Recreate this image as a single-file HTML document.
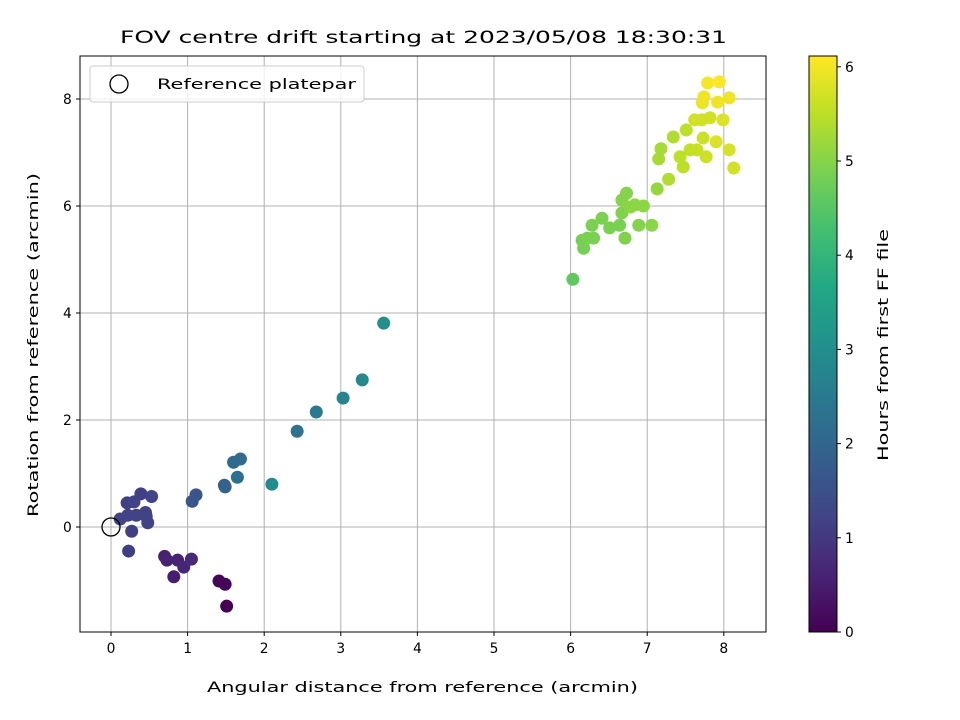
<!DOCTYPE html>
<html><head><meta charset="utf-8"><style>
html,body{margin:0;padding:0;background:#fff;}
svg{display:block;font-family:"DejaVu Sans","Liberation Sans",sans-serif;}
text{font-size:14px;}
.t{font-size:17px;}
</style></head><body>
<svg id="chart" width="960" height="720" viewBox="0 0 960 720" xmlns="http://www.w3.org/2000/svg">
<defs>
<linearGradient id="vir" x1="0" y1="1" x2="0" y2="0">
<stop offset="0" stop-color="#440154"/><stop offset="0.1" stop-color="#482475"/>
<stop offset="0.2" stop-color="#414487"/><stop offset="0.3" stop-color="#355f8d"/>
<stop offset="0.4" stop-color="#2a788e"/><stop offset="0.5" stop-color="#21918c"/>
<stop offset="0.6" stop-color="#22a884"/><stop offset="0.7" stop-color="#44bf70"/>
<stop offset="0.8" stop-color="#7ad151"/><stop offset="0.9" stop-color="#bddf26"/>
<stop offset="1" stop-color="#fde725"/>
</linearGradient>
<clipPath id="pc"><rect x="80" y="56" width="686" height="576"/></clipPath>
</defs>
<text class="t" x="120" y="43" textLength="607" lengthAdjust="spacingAndGlyphs">FOV centre drift starting at 2023/05/08 18:30:31</text>
<g id="grid"></g>
<g id="pts" clip-path="url(#pc)"></g>
<rect x="80" y="56" width="686" height="576" fill="none" stroke="#000" stroke-width="1"/>
<g id="xt"></g>
<g id="yt"></g>
<text x="207" y="692" textLength="431" lengthAdjust="spacingAndGlyphs">Angular distance from reference (arcmin)</text>
<text transform="translate(38,517) rotate(-90)" textLength="344" lengthAdjust="spacingAndGlyphs">Rotation from reference (arcmin)</text>
<g>
<rect x="90" y="66" width="274" height="36" rx="3" fill="#fff" fill-opacity="0.8" stroke="#ccc"/>
<circle cx="119" cy="84" r="9" fill="none" stroke="#000" stroke-width="1.3"/>
<text x="157" y="89" textLength="199" lengthAdjust="spacingAndGlyphs">Reference platepar</text>
</g>
<rect x="809" y="56" width="28" height="576" fill="url(#vir)" stroke="#000" stroke-width="1"/>
<g id="ct"></g>
<text transform="translate(888,461) rotate(-90)" textLength="232" lengthAdjust="spacingAndGlyphs">Hours from first FF file</text>
</svg>
<script>
const xTicks=[0,1,2,3,4,5,6,7,8];
const yTicks=[0,2,4,6,8];
const cTicks=[0,1,2,3,4,5,6];
const xs=[1.41,1.49,1.51,0.70,0.73,0.82,0.87,0.95,1.05,0.12,0.21,0.23,0.27,0.30,0.33,0.39,0.45,0.48,0.53,0.46,0.22,1.06,1.11,1.48,1.49,1.60,1.69,1.65,2.10,2.43,2.68,3.03,3.28,3.56,6.03,6.17,6.15,6.22,6.30,6.28,6.41,6.51,6.64,6.71,6.67,6.73,6.67,6.78,6.84,6.95,6.89,7.06,7.13,7.15,7.18,7.28,7.34,7.43,7.47,7.51,7.56,7.62,7.71,7.73,7.77,7.82,7.90,7.99,8.07,8.13,7.72,7.74,7.79,7.94,7.92,8.07,7.65];
const ys=[-1.01,-1.07,-1.48,-0.55,-0.62,-0.93,-0.62,-0.75,-0.60,0.15,0.45,-0.45,-0.08,0.47,0.22,0.62,0.27,0.08,0.57,0.20,0.22,0.48,0.60,0.78,0.75,1.21,1.27,0.93,0.80,1.79,2.15,2.41,2.75,3.81,4.63,5.21,5.36,5.40,5.40,5.64,5.77,5.59,5.64,5.40,5.87,6.24,6.11,5.98,6.02,6.00,5.64,5.64,6.32,6.88,7.07,6.50,7.29,6.92,6.73,7.42,7.05,7.61,7.61,7.27,6.92,7.65,7.20,7.61,7.05,6.71,7.93,8.04,8.30,8.32,7.94,8.02,7.05];
const hours=[0.05,0.1,0.0,0.55,0.6,0.5,0.6,0.65,0.7,1.2,1.15,1.1,1.15,1.2,1.2,1.15,1.2,1.2,1.25,1.2,1.2,1.6,1.6,1.9,1.9,2.1,2.1,2.2,2.9,2.3,2.5,2.75,2.85,3.0,4.6,4.85,4.85,4.9,4.9,4.9,4.9,4.9,4.9,4.95,4.95,5.0,5.0,5.05,5.05,5.05,5.0,5.05,5.15,5.3,5.3,5.4,5.4,5.5,5.5,5.5,5.55,5.7,5.7,5.65,5.65,5.7,5.8,5.8,5.75,5.7,5.95,6.0,6.05,6.1,6.0,6.0,5.6];
const X=v=>111+v*76.6, Y=v=>527-v*53.5, C=v=>632-v*94.2;
const vir=['#440154','#482475','#414487','#355f8d','#2a788e','#21918c','#22a884','#44bf70','#7ad151','#bddf26','#fde725'];
function col(t){let f=Math.max(0,Math.min(1,t/6.12))*10;let i=Math.min(9,Math.floor(f)),r=f-i;
const a=vir[i],b=vir[i+1];const p=(h,k)=>parseInt(h.substr(1+2*k,2),16);
let o='rgb(';for(let k=0;k<3;k++){o+=Math.round(p(a,k)+(p(b,k)-p(a,k))*r)+(k<2?',':')');}return o;}
const NS='http://www.w3.org/2000/svg';
function mk(tag,attrs,parent){const e=document.createElementNS(NS,tag);for(const k in attrs)e.setAttribute(k,attrs[k]);parent.appendChild(e);return e;}
const grid=document.getElementById('grid'),xt=document.getElementById('xt'),yt=document.getElementById('yt'),ct=document.getElementById('ct'),pts=document.getElementById('pts');
xTicks.forEach(v=>{const x=X(v);
 const g=mk('line',{x1:x,x2:x,y1:56,y2:632,stroke:'#b0b0b0','stroke-width':1},grid);
 
 
 const t=mk('line',{x1:x,x2:x,y1:632,y2:636,stroke:'#000'},xt);
 
 
 const l=mk('text',{x:x-4.4,y:653,textLength:8.8,lengthAdjust:'spacingAndGlyphs'},xt);l.textContent=v;
 
 });
yTicks.forEach(v=>{const y=Y(v);
 const g=mk('line',{x1:80,x2:766,y1:y,y2:y,stroke:'#b0b0b0','stroke-width':1},grid);
 
 
 const t=mk('line',{x1:76,x2:80,y1:y,y2:y,stroke:'#000'},yt);
 
 
 const l=mk('text',{x:63,y:y+5,textLength:8.8,lengthAdjust:'spacingAndGlyphs'},yt);l.textContent=v;
 
 });
cTicks.forEach(v=>{const y=C(v);
 const t=mk('line',{x1:837,x2:841,y1:y,y2:y,stroke:'#000'},ct);
 
 
 const l=mk('text',{x:845,y:y+5,textLength:8.8,lengthAdjust:'spacingAndGlyphs'},ct);l.textContent=v;
 
 });
xs.forEach((v,i)=>{const c=mk('circle',{cx:X(v),cy:Y(ys[i]),r:6.5,fill:col(hours[i])},pts);
 
 });
const ref=mk('circle',{cx:X(0),cy:Y(0),r:9,fill:'none',stroke:'#000','stroke-width':1.3},pts);


</script>
</body></html>
